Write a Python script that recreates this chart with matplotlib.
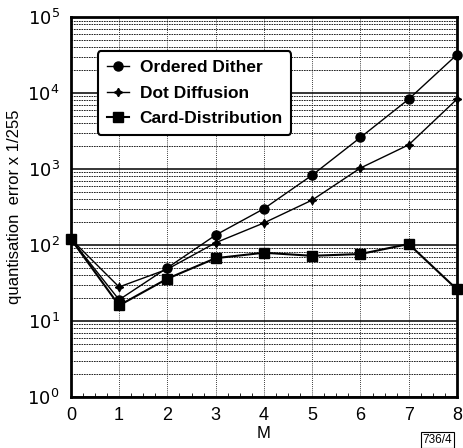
import numpy as np
import matplotlib
matplotlib.use("Agg")
import matplotlib.pyplot as plt
from matplotlib.ticker import LogLocator, FixedLocator

M = [0, 1, 2, 3, 4, 5, 6, 7, 8]
ordered_dither = [120, 19, 50, 135, 300, 830, 2600, 8300, 32000]
dot_diffusion = [120, 28, 48, 107, 195, 390, 1030, 2080, 8300]
card_distribution = [120, 16, 36, 67, 79, 72, 76, 103, 26]

plt.rcParams['font.family'] = ['Liberation Sans', 'DejaVu Sans']

fig = plt.figure(figsize=(4.63, 4.48), dpi=100)
ax = fig.add_axes([0.153, 0.114, 0.834, 0.848])

ax.set_yscale('log')
ax.set_ylim(1, 1e5)
ax.set_xlim(0, 8)

# grid: solid decades, dotted minors, dotted verticals
ax.yaxis.set_minor_locator(LogLocator(base=10, subs=np.arange(2, 10)))
ax.grid(True, which='major', axis='y', color='black', lw=1.1, ls='-')
ax.grid(True, which='minor', axis='y', color='black', lw=0.6, ls=(0, (2, 1)))
ax.grid(True, which='major', axis='x', color='black', lw=0.6, ls=(0, (1, 1.5)))
ax.set_axisbelow(True)

ax.plot(M, ordered_dither, color='black', lw=1.0, marker='o', ms=6.5,
        label='Ordered Dither')
ax.plot(M, dot_diffusion, color='black', lw=1.0, marker=(4, 1, 0), ms=6,
        label='Dot Diffusion')
ax.plot(M, card_distribution, color='black', lw=1.5, marker='s', ms=6.5,
        label='Card-Distribution')
for l in ax.lines:
    l.set_clip_on(False)

ax.set_xticks(M)
ax.set_yticks([1, 10, 100, 1e3, 1e4, 1e5])
ax.set_yticklabels([r'$10^{%d}$' % i for i in range(6)])
ax.tick_params(axis='both', which='major', labelsize=13, length=0)
ax.tick_params(axis='x', which='major', pad=7)
ax.tick_params(axis='y', which='major', pad=8)
ax.tick_params(axis='y', which='minor', length=0)
ax.xaxis.set_minor_locator(FixedLocator(np.arange(0, 8.01, 0.25)))
ax.tick_params(axis='x', which='minor', length=3, direction='in')

for s in ax.spines.values():
    s.set_linewidth(2)

ax.set_xlabel('M', fontsize=12, labelpad=2)
ax.set_ylabel('quantisation  error x 1/255', fontsize=12, labelpad=4)

leg = ax.legend(loc='upper left', bbox_to_anchor=(0.07, 0.91), frameon=True,
                fancybox=True, edgecolor='black', framealpha=1,
                prop={'weight': 'bold', 'size': 12.5}, handlelength=1.3,
                handletextpad=0.6, borderpad=0.5, labelspacing=0.6,
                borderaxespad=0)
leg.get_frame().set_linewidth(1.5)

fig.text(0.945, 0.005, '736/4', fontsize=8.5, ha='center', va='bottom',
         bbox=dict(boxstyle='square,pad=0.15', fc='white', ec='black', lw=0.8))

fig.savefig('out.png', dpi=100)
